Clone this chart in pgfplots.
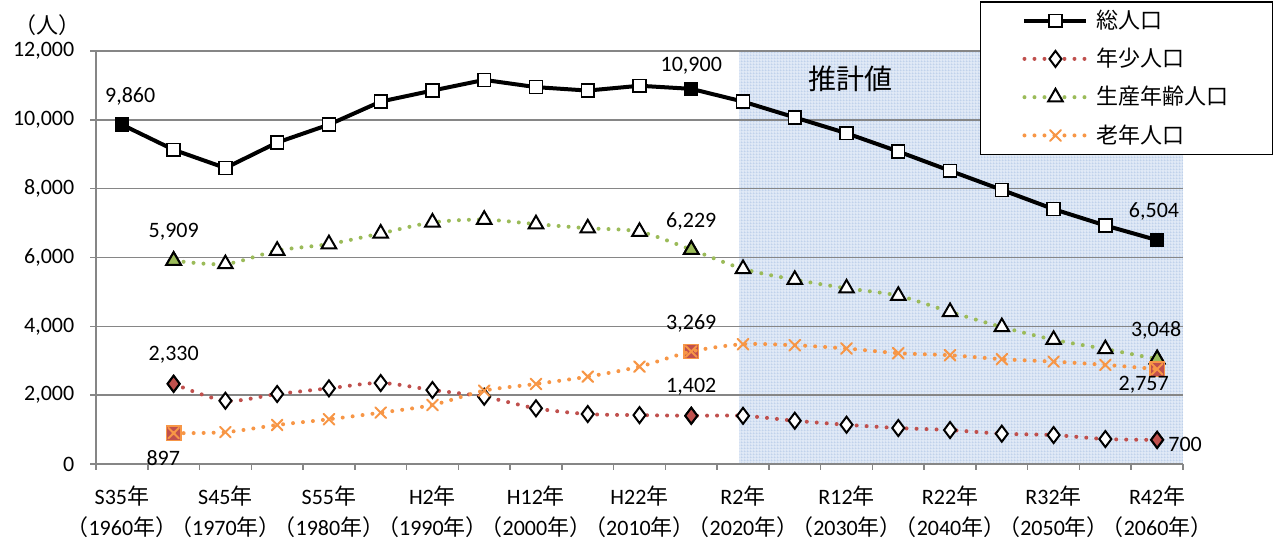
\documentclass[border=0pt]{standalone}
\usepackage{fontspec}
\setmainfont{Carlito}
\newfontfamily\cjk{Noto Sans CJK JP}
\usepackage{pgfplots}
\pgfplotsset{compat=1.18}
\usetikzlibrary{patterns.meta}

\definecolor{gridgray}{RGB}{134,134,134}
\definecolor{yred}{RGB}{192,80,77}
\definecolor{wgreen}{RGB}{155,187,89}
\definecolor{oorange}{RGB}{247,150,70}
\definecolor{estshade}{RGB}{224,233,246}
\definecolor{estline}{RGB}{176,198,230}

\tikzdeclarepattern{
  name=finegrid,
  type=uncolored,
  bounding box={(0pt,0pt) and (1.5pt,1.5pt)},
  tile size={(1.5pt,1.5pt)},
  code={
    \pgfsetlinewidth{0.45pt}
    \pgfpathmoveto{\pgfpoint{0pt}{0pt}}\pgfpathlineto{\pgfpoint{1.5pt}{0pt}}
    \pgfpathmoveto{\pgfpoint{0pt}{0pt}}\pgfpathlineto{\pgfpoint{0pt}{1.5pt}}
    \pgfusepath{stroke}
  }
}

\newcommand{\nen}{{\cjk 年}}
\newcommand{\yl}[2]{#1\nen\\{\cjk （}#2\nen{\cjk ）}}

\begin{document}
\fontsize{11pt}{13pt}\selectfont
\begin{tikzpicture}
\begin{axis}[
  set layers,
  clip mode=individual,
  scale only axis,
  width=543.5pt, height=206.5pt,
  xmin=1957.5, xmax=2062.5,
  ymin=0, ymax=12000,
  axis lines=left,
  axis line style={gridgray, line width=0.75pt, -},
  ytick={0,2000,...,12000},
  scaled y ticks=false,
  /pgf/number format/1000 sep={,},
  /pgf/number format/assume math mode=true,
  ymajorgrids,
  grid style={gridgray, line width=0.75pt},
  xtick={1960,1970,...,2060},
  xticklabels={{\yl{S35}{1960}},{\yl{S45}{1970}},{\yl{S55}{1980}},{\yl{H2}{1990}},{\yl{H12}{2000}},{\yl{H22}{2010}},{\yl{R2}{2020}},{\yl{R12}{2030}},{\yl{R22}{2040}},{\yl{R32}{2050}},{\yl{R42}{2060}}},
  minor xtick={1957.5,1962.5,1967.5,1972.5,1977.5,1982.5,1987.5,1992.5,1997.5,2002.5,2007.5,2012.5,2017.5,2022.5,2027.5,2032.5,2037.5,2042.5,2047.5,2052.5,2057.5,2062.5},
  major x tick style={draw=none},
  tick align=outside,
  major tick length=3pt, minor tick length=3pt,
  tick style={gridgray, line width=0.75pt},
  x tick label style={align=center, font=\fontsize{11pt}{15.5pt}\selectfont, yshift=-4pt},
  y tick label style={xshift=-4pt},
  legend style={at={(0.813,1.121)}, anchor=north west, draw=black, line width=0.75pt,
    fill=white, font=\cjk\fontsize{11pt}{13pt}\selectfont, inner xsep=21pt, inner ysep=3pt,
    row sep=6.2pt, column sep=3pt, nodes={inner sep=1pt}},
  legend cell align=left,
  legend image code/.code={\draw[mark repeat=2,mark phase=2,#1] plot coordinates {(0pt,0pt) (15.5pt,0pt) (31pt,0pt)};},
]
\begin{pgfonlayer}{axis background}
\fill[estshade] (axis cs:2019.65,0) rectangle (axis cs:2062.5,12000);
\fill[pattern=finegrid, pattern color=estline] (axis cs:2019.65,0) rectangle (axis cs:2062.5,12000);
\end{pgfonlayer}
\coordinate (bl) at (rel axis cs:0,0);
\coordinate (tr) at (rel axis cs:1,1);

% 総人口
\addplot[black, line width=2pt, mark=square*, mark size=3.2pt,
  mark options={fill=white, draw=black, line width=0.75pt}] coordinates {
  (1960,9860) (1965,9130) (1970,8600) (1975,9340) (1980,9860) (1985,10530)
  (1990,10850) (1995,11160) (2000,10950) (2005,10850) (2010,10990) (2015,10900)
  (2020,10530) (2025,10070) (2030,9610) (2035,9080) (2040,8520) (2045,7965)
  (2050,7405) (2055,6930) (2060,6504)
};
\addlegendentry{総人口}
\addplot[only marks, mark=square*, mark size=3.2pt, mark options={fill=black, draw=black, line width=0.75pt}, forget plot]
  coordinates {(1960,9860) (2015,10900) (2060,6504)};

% 年少人口
\addplot[yred, line width=2pt, line cap=round, dash pattern=on 0pt off 5pt, smooth,
  mark=diamond*, mark size=4pt,
  mark options={fill=white, draw=black, line width=1pt, solid}] coordinates {
  (1965,2330) (1970,1838) (1975,2033) (1980,2198) (1985,2353) (1990,2149)
  (1995,1954) (2000,1617) (2005,1451) (2010,1420) (2015,1402) (2020,1400)
  (2025,1257) (2030,1140) (2035,1045) (2040,986) (2045,880) (2050,841)
  (2055,725) (2060,700)
};
\addlegendentry{年少人口}
\addplot[only marks, mark=diamond*, mark size=4pt, mark options={fill=yred, draw=black, line width=1pt}, forget plot]
  coordinates {(1965,2330) (2015,1402) (2060,700)};

% 生産年齢人口
\addplot[wgreen, line width=2pt, line cap=round, dash pattern=on 0pt off 5pt, smooth,
  mark=triangle*, mark size=4.2pt,
  mark options={fill=white, draw=black, line width=1pt, solid}] coordinates {
  (1965,5909) (1970,5810) (1975,6200) (1980,6390) (1985,6700) (1990,7020)
  (1995,7100) (2000,6970) (2005,6850) (2010,6750) (2015,6229) (2020,5670)
  (2025,5355) (2030,5105) (2035,4890) (2040,4420) (2045,3980) (2050,3610)
  (2055,3340) (2060,3048)
};
\addlegendentry{生産年齢人口}
\addplot[only marks, mark=triangle*, mark size=4.2pt, mark options={fill=wgreen, draw=black, line width=1pt}, forget plot]
  coordinates {(1965,5909) (2015,6229) (2060,3048)};

% 老年人口
\addplot[only marks, mark=square*, mark size=3.6pt, mark options={fill=yred, draw=oorange, line width=0.75pt}, forget plot]
  coordinates {(1965,897) (2015,3269) (2060,2757)};
\addplot[oorange, line width=2pt, line cap=round, dash pattern=on 0pt off 5pt, smooth,
  mark=x, mark size=3.8pt,
  mark options={draw=oorange, line width=1pt, solid}] coordinates {
  (1965,897) (1970,925) (1975,1134) (1980,1300) (1985,1492) (1990,1715)
  (1995,2131) (2000,2326) (2005,2538) (2010,2829) (2015,3269) (2020,3480)
  (2025,3450) (2030,3355) (2035,3220) (2040,3160) (2045,3045) (2050,2975)
  (2055,2880) (2060,2757)
};
\addlegendentry{老年人口}

% data labels
\node at (axis cs:1960.8,10693) {9,860};
\node at (axis cs:2015,11564) {10,900};
\node at (axis cs:2059.7,7326) {6,504};
\node at (axis cs:1965,6741) {5,909};
\node at (axis cs:2015,7060) {6,229};
\node at (axis cs:2015,4097) {3,269};
\node at (axis cs:2059.9,3894) {3,048};
\node at (axis cs:1965,3167) {2,330};
\node at (axis cs:2015,2237) {1,402};
\node at (axis cs:2058.7,2296) {2,757};
\node at (axis cs:1964,174) {897};
\node at (axis cs:2062.7,581) {700};
\node[font=\cjk\fontsize{14pt}{16pt}\selectfont] at (axis cs:2030.4,11201) {推計値};
\node[font=\cjk] at (axis description cs:-0.045,1.063) {（人）};
\end{axis}
\pgfresetboundingbox
\path ([xshift=-48pt,yshift=-40.5pt]bl) rectangle ([xshift=52pt,yshift=25.5pt]tr);
\end{tikzpicture}
\end{document}
